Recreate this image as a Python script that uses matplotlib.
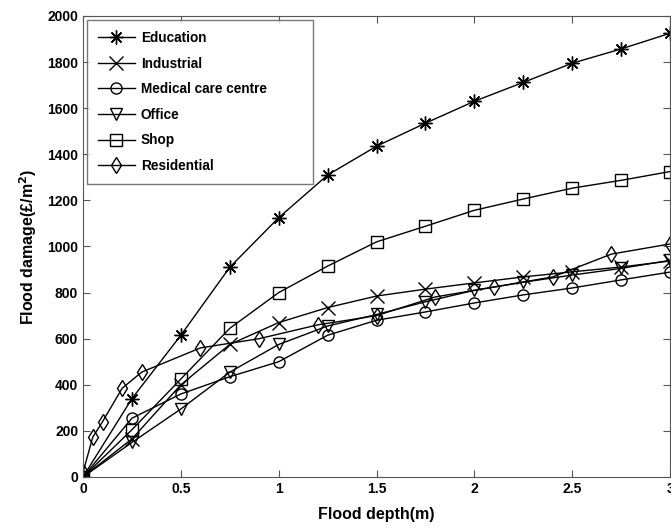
import matplotlib
matplotlib.use('Agg')
from matplotlib import pyplot as plt

# --- Data

depth = [0, 0.25, 0.5, 0.75, 1.0, 1.25, 1.5, 1.75, 2.0, 2.25, 2.5, 2.75, 3.0]

education = [0, 340, 615, 910, 1125, 1310, 1435, 1535, 1630, 1712, 1795, 1857, 1925]
industrial = [0, 165, 400, 575, 670, 735, 785, 815, 842, 868, 890, 911, 937]
medical = [0, 255, 360, 435, 500, 615, 680, 716, 755, 790, 820, 855, 889]
office = [0, 150, 295, 455, 575, 655, 705, 760, 810, 845, 876, 905, 940]
shop = [0, 205, 425, 645, 800, 915, 1020, 1088, 1157, 1206, 1253, 1287, 1325]

res_depth = [0, 0.05, 0.1, 0.2, 0.3, 0.6, 0.9, 1.2, 1.5, 1.8, 2.1, 2.4, 2.7, 3.0]
residential = [20, 173, 240, 385, 455, 560, 600, 660, 700, 781, 824, 868, 967, 1011]

# asterisk marker with 8 arms (like matlab '*')
ASTERISK = (8, 2, 0)

series = [
    ('Education', depth, education, ASTERISK),
    ('Industrial', depth, industrial, 'x'),
    ('Medical care centre', depth, medical, 'o'),
    ('Office', depth, office, 'v'),
    ('Shop', depth, shop, 's'),
    ('Residential', res_depth, residential, 'd'),
]

plt.rcParams['font.family'] = ['Liberation Sans', 'DejaVu Sans']
plt.rcParams['font.weight'] = 'bold'

fig = plt.figure(figsize=(6.71, 5.32), dpi=100)
ax = fig.add_axes([0.1237, 0.1034, 0.875, 0.8666])

for name, xs, ys, mk in series:
    big = mk == ASTERISK or mk == 'x'
    ax.plot(xs, ys, color='black', lw=1.0, marker=mk, markersize=10 if big else 8,
            markerfacecolor='none', markeredgecolor='black', markeredgewidth=1.0, label=name)

ax.set_xlim(0, 3)
ax.set_ylim(0, 2000)
ax.set_xticks([0, 0.5, 1, 1.5, 2, 2.5, 3])
ax.set_xticklabels(['0', '0.5', '1', '1.5', '2', '2.5', '3'])
ax.set_yticks(range(0, 2001, 200))
ax.tick_params(direction='in', top=True, right=True, labelsize=10, length=5, color='#555555')
for lab in ax.get_xticklabels() + ax.get_yticklabels():
    lab.set_fontweight('bold')
for sp in ax.spines.values():
    sp.set_color('#555555')

ax.set_xlabel('Flood depth(m)', fontsize=11.5, fontweight='bold', labelpad=8)
ax.set_ylabel('Flood damage(£/m$^\\mathbf{2}$)', fontsize=11.5, fontweight='bold', labelpad=6)

leg = ax.legend(loc='upper left', bbox_to_anchor=(0.0068, 0.991, 0.385, 0), mode='expand',
                borderaxespad=0, frameon=True, fancybox=False, edgecolor='#555555',
                handlelength=2.7, handletextpad=0.45, borderpad=0.8,
                labelspacing=0.85, prop={'weight': 'bold', 'size': 9.8})
leg.get_frame().set_linewidth(1.0)

fig.savefig('out.png', dpi=100)
